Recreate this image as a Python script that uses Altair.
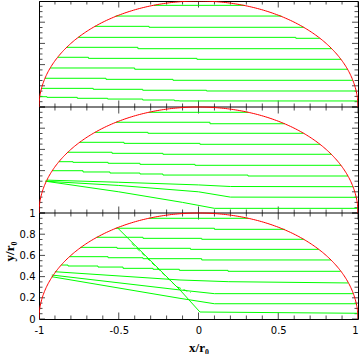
import altair as alt
import numpy as np
import pandas as pd

# ---------------- axis ticks ----------------
x_major = [-1, -0.5, 0, 0.5, 1]
x_minor = [-0.9, -0.8, -0.7, -0.6, -0.4, -0.3, -0.2, -0.1,
           0.1, 0.2, 0.3, 0.4, 0.6, 0.7, 0.8, 0.9]
y_major = [0, 0.2, 0.4, 0.6, 0.8, 1]
y_minor = [0.05, 0.1, 0.15, 0.25, 0.3, 0.35, 0.45, 0.5, 0.55,
           0.65, 0.7, 0.75, 0.85, 0.9, 0.95]

# ---------------- streamlines (step lines) ----------------
# each line: x breakpoints (start, steps..., end) and y level of each segment
top_x = [
    [-0.28, 0.29],
    [-0.52, 0.52],
    [-0.65, -0.31, 0.66],
    [-0.755, 0.61, 0.76],
    [-0.826, -0.38, 0.835],
    [-0.883, -0.69, -0.01, 0.893],
    [-0.93, -0.40, 0.934],
    [-0.963, -0.58, -0.16, 0.968],
    [-0.984, -0.66, -0.35, 0.05, 0.988],
    [-0.995, -0.95, -0.76, -0.57, -0.35, -0.15, -0.12, 0.998],
]
top_y = [
    [0.959],
    [0.858],
    [0.761, 0.752],
    [0.657, 0.648],
    [0.563, 0.550],
    [0.469, 0.459, 0.450],
    [0.368, 0.356],
    [0.271, 0.261, 0.252],
    [0.176, 0.167, 0.158, 0.151],
    [0.097, 0.091, 0.082, 0.075, 0.066, 0.059, 0.057],
]

mid_x = [
    [-0.31, 0.31],
    [-0.517, 0.072, 0.54],
    [-0.648, -0.317, 0.659],
    [-0.745, -0.467, 0.009, 0.762],
    [-0.82, -0.542, -0.223, 0.833],
    [-0.875, -0.787, -0.567, -0.367, -0.022, 0.893],
    [-0.917, -0.724, -0.555, -0.367, -0.223, 0.31, 0.937],
]
mid_y = [
    [0.950],
    [0.856, 0.842],
    [0.761, 0.752],
    [0.667, 0.657, 0.648],
    [0.573, 0.563, 0.554],
    [0.484, 0.478, 0.469, 0.459, 0.450],
    [0.399, 0.387, 0.377, 0.368, 0.358, 0.349],
]
# sloping streamlines (straight segments)
mid_dx = [
    [-0.95, -0.5, 0.0, 0.2, 0.97],
    [-0.96, -0.5, 0.0, 0.2, 0.99],
    [-0.96, -0.5, -0.1, 0.1, 0.999],
]
mid_dy = [
    [0.31, 0.29, 0.265, 0.25, 0.248],
    [0.30, 0.26, 0.20, 0.15, 0.148],
    [0.30, 0.20, 0.10, 0.044, 0.044],
]

bot_x = [
    [-0.31, 0.31],
    [-0.52, 0.1, 0.54],
    [-0.64, -0.348, 0.02, 0.66],
    [-0.74, -0.511, -0.05, 0.754],
    [-0.81, -0.567, -0.348, 0.02, 0.83],
    [-0.86, -0.818, -0.63, -0.473, -0.285, -0.12, 0.185, 0.89],
]
bot_y = [
    [0.950],
    [0.856, 0.846],
    [0.771, 0.761, 0.752],
    [0.676, 0.667, 0.657],
    [0.588, 0.578, 0.569, 0.557],
    [0.509, 0.500, 0.490, 0.478, 0.469, 0.459, 0.450],
]
bot_dx = [
    [-0.9, -0.116, 0.19, 0.94],
    [-0.92, -0.116, 0.1, 0.97],
    [-0.92, -0.116, 0.1, 0.99],
    [-0.505, -0.116, 0.009, 0.999],
]
bot_dy = [
    [0.446, 0.368, 0.352, 0.340],
    [0.415, 0.274, 0.239, 0.239],
    [0.399, 0.195, 0.144, 0.144],
    [0.856, 0.274, 0.066, 0.054],
]
# faint (dotted) companion of the steep streamline in the bottom panel
bot_fx = [-0.419, -0.137, -0.05]
bot_fy = [0.714, 0.305, 0.25]

# panels are stacked in one frame: bottom panel y in [0,1], middle [1,2], top [2,3]
panel_offset = {"top": 2, "mid": 1, "bot": 0}

GREEN = "#00ff00"
RED = "#ff0000"
FONT = "DejaVu Sans"
TFONT = "Liberation Serif"
W, H = 319, 318


def step_rows(name, xs_list, ys_list):
    rows = []
    off = panel_offset[name]
    for i, (xs, ys) in enumerate(zip(xs_list, ys_list)):
        levels = list(ys) + [ys[-1]]
        for j, (xv, yv) in enumerate(zip(xs, levels)):
            rows.append({"line": f"{name}{i}", "o": j, "x": xv, "y": yv + off})
    return rows


def seg_rows(name, xs_list, ys_list):
    rows = []
    off = panel_offset[name]
    for i, (xs, ys) in enumerate(zip(xs_list, ys_list)):
        for j, (xv, yv) in enumerate(zip(xs, ys)):
            rows.append({"line": f"{name}d{i}", "o": j, "x": xv, "y": yv + off})
    return rows


steps_df = pd.DataFrame(step_rows("top", top_x, top_y)
                        + step_rows("mid", mid_x, mid_y)
                        + step_rows("bot", bot_x, bot_y))
segs_df = pd.DataFrame(seg_rows("mid", mid_dx, mid_dy)
                       + seg_rows("bot", bot_dx, bot_dy))
faint_df = pd.DataFrame(seg_rows("bot", [bot_fx], [bot_fy]))

# boundary: unit semicircle, one in each panel
theta = np.linspace(np.pi, 0, 241)
circ_rows = []
for name, off in panel_offset.items():
    for j, t in enumerate(theta):
        circ_rows.append({"line": name, "o": j, "x": np.cos(t), "y": np.sin(t) + off})
circ_df = pd.DataFrame(circ_rows)

# tick marks
xt_rows = []
for b in (0, 1, 2, 3):
    for v in x_major:
        xt_rows.append({"x": v, "y": b, "kind": "major"})
    for v in x_minor:
        xt_rows.append({"x": v, "y": b, "kind": "minor"})
xt_df = pd.DataFrame(xt_rows)
yt_rows = []
for off in (0, 1, 2):
    for side in (-1, 1):
        for v in y_major:
            yt_rows.append({"x": side, "y": v + off, "kind": "major"})
        for v in y_minor:
            yt_rows.append({"x": side, "y": v + off, "kind": "minor"})
yt_df = pd.DataFrame(yt_rows)
sep_df = pd.DataFrame({"y": [1, 2]})

xscale = alt.Scale(domain=[-1, 1], nice=False, zero=False)
yscale = alt.Scale(domain=[0, 3], nice=False, zero=False)

xaxis = alt.Axis(values=x_major, ticks=False, domain=False, grid=False,
                 labelExpr="toString(datum.value)", labelFont=FONT,
                 labelFontSize=10, labelPadding=6, labelColor="black",
                 labelOverlap=False, labelFlush=False,
                 labelAlign={"condition": {"test": "datum.value == 1", "value": "right"},
                             "value": "center"},
                 title="x/r\u2080", titleFont=TFONT, titleFontSize=13,
                 titleFontWeight="bold", titleColor="black", titlePadding=6)
yaxis = alt.Axis(values=y_major, ticks=False, domain=False, grid=False,
                 labelExpr="toString(datum.value)", labelFont=FONT,
                 labelFontSize=10, labelPadding=4, labelColor="black",
                 labelOverlap=False, labelFlush=False,
                 title="y/r\u2080", titleFont=TFONT, titleFontSize=13,
                 titleFontWeight="bold", titleColor="black",
                 titleX=-30, titleY=250, titleAngle=270, titleAlign="center",
                 titleBaseline="middle")

X = alt.X("x:Q", scale=xscale, axis=xaxis)
Y = alt.Y("y:Q", scale=yscale, axis=yaxis)

sep = alt.Chart(sep_df).mark_rule(color="black", strokeWidth=1).encode(y=Y)

xticks_major = alt.Chart(xt_df).transform_filter("datum.kind == 'major'").mark_tick(
    orient="vertical", size=13, thickness=1, color="black", clip=True).encode(x=X, y=Y)
xticks_minor = alt.Chart(xt_df).transform_filter("datum.kind == 'minor'").mark_tick(
    orient="vertical", size=7, thickness=1, color="black", clip=True).encode(x=X, y=Y)
yticks_major = alt.Chart(yt_df).transform_filter("datum.kind == 'major'").mark_tick(
    orient="horizontal", size=12, thickness=1, color="black", clip=True).encode(x=X, y=Y)
yticks_minor = alt.Chart(yt_df).transform_filter("datum.kind == 'minor'").mark_tick(
    orient="horizontal", size=7, thickness=1, color="black", clip=True).encode(x=X, y=Y)

steps = alt.Chart(steps_df).mark_line(
    color=GREEN, strokeWidth=1, interpolate="step-after", clip=True
).encode(x=X, y=Y, detail="line:N", order="o:Q")
segs = alt.Chart(segs_df).mark_line(
    color=GREEN, strokeWidth=1, clip=True
).encode(x=X, y=Y, detail="line:N", order="o:Q")
faint = alt.Chart(faint_df).mark_line(
    color=GREEN, strokeWidth=1, strokeDash=[4, 3], clip=True
).encode(x=X, y=Y, detail="line:N", order="o:Q")
circle = alt.Chart(circ_df).mark_line(color=RED, strokeWidth=1, clip=True).encode(
    x=X, y=Y, detail="line:N", order="o:Q")

chart = alt.layer(
    sep, xticks_major, xticks_minor, yticks_major, yticks_minor,
    steps, segs, faint, circle
).properties(
    width=W, height=H,
    autosize=alt.AutoSizeParams(type="none"),
    padding={"left": 39, "top": 1, "right": 1, "bottom": 35},
    background="white",
).configure_view(stroke="black", strokeWidth=1)

chart.save("out.html", embed_options={"renderer": "svg", "actions": False})
